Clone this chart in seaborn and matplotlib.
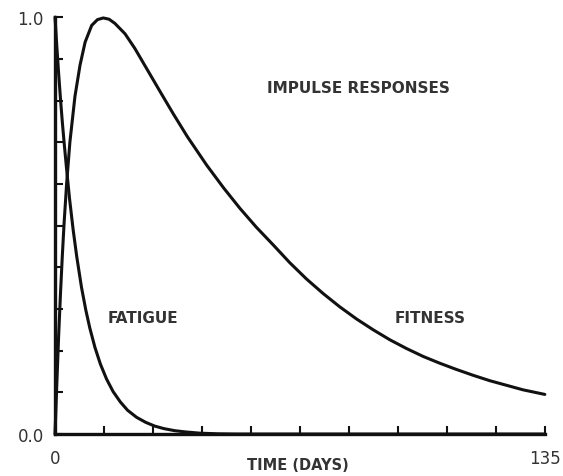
import matplotlib
matplotlib.use("Agg")
import matplotlib.pyplot as plt
import seaborn as sns
import pandas as pd

# values
fatigue_t = [0, 0.5, 1, 1.5, 2, 2.5, 3.2, 4, 5, 6, 7.3, 8.5, 9.6, 11, 12.5, 14.2, 16, 18, 20,
             22.5, 25, 27.5, 30, 33, 36, 40, 45, 50, 135]
fatigue_v = [1.0, 0.93, 0.865, 0.805, 0.75, 0.70, 0.635, 0.565, 0.49, 0.425, 0.352, 0.297, 0.254,
             0.208, 0.168, 0.132, 0.102, 0.077, 0.057, 0.040, 0.028, 0.019, 0.013, 0.008, 0.005,
             0.002, 0.0005, 0.0, 0.0]

fitness_t = [0, 0.5, 1, 1.5, 2, 2.5, 3.2, 4.1, 5.5, 6.9, 8.3, 10.1, 11.7, 13.3, 14.9, 16.5, 19.3,
             22, 25.7, 29.4, 32.6, 36.5, 41.8, 46.5, 51, 55.5, 60.1, 64.7, 69.3, 73.9, 78.5, 83.1,
             87.7, 92.3, 96.9, 101.5, 106, 110.6, 115.2, 119.8, 124.4, 129, 135]
fitness_v = [0.0, 0.12, 0.235, 0.335, 0.425, 0.505, 0.60, 0.70, 0.81, 0.885, 0.94, 0.980, 0.994,
             0.998, 0.995, 0.985, 0.960, 0.925, 0.870, 0.815, 0.768, 0.713, 0.645, 0.590, 0.541,
             0.496, 0.454, 0.411, 0.372, 0.337, 0.305, 0.276, 0.250, 0.226, 0.205, 0.186, 0.170,
             0.155, 0.141, 0.128, 0.117, 0.106, 0.095]

x_ticks = [0, 13.5, 27, 40.5, 54, 67.5, 81, 94.5, 108, 121.5, 135]
x_tick_labels = ["0", "", "", "", "", "", "", "", "", "", "135"]
y_ticks = [0.0, 0.1, 0.2, 0.3, 0.4, 0.5, 0.6, 0.7, 0.8, 0.9, 1.0]
y_tick_labels = ["0.0", "", "", "", "", "", "", "", "", "", "1.0"]

fat = pd.DataFrame({"t": fatigue_t, "v": fatigue_v})
fit = pd.DataFrame({"t": fitness_t, "v": fitness_v})

sns.set_style("white")
plt.rcParams["font.family"] = ["DejaVu Sans"]

fig = plt.figure(figsize=(5.63, 4.77), dpi=100)
ax = fig.add_axes([0.0977, 0.088, 0.870, 0.874])

ink = "#111111"
txt = "#333333"
line_kw = dict(color=ink, lw=2.2, sort=False, estimator=None)
sns.lineplot(data=fat, x="t", y="v", ax=ax, **line_kw)
sns.lineplot(data=fit, x="t", y="v", ax=ax, **line_kw)
for ln in ax.get_lines():
    ln.set_solid_joinstyle("round")
    ln.set_solid_capstyle("round")
    ln.set_clip_on(False)

ax.set_xlim(0, 135)
ax.set_ylim(0, 1.0)
for s in ["top", "right"]:
    ax.spines[s].set_visible(False)
for s in ["left", "bottom"]:
    ax.spines[s].set_linewidth(2.4)
    ax.spines[s].set_color(ink)

ax.set_xticks(x_ticks)
ax.set_xticklabels(x_tick_labels)
ax.set_yticks(y_ticks)
ax.set_yticklabels(y_tick_labels)
ax.tick_params(axis="both", which="major", bottom=True, left=True, direction="in",
               length=6, width=1.5, color=ink, labelsize=12, labelcolor=txt)
ax.tick_params(axis="x", pad=11)
ax.tick_params(axis="y", pad=8)

ax.set_xlabel("")
ax.set_ylabel("")
fig.text(298 / 563, 1 - 466 / 477, "TIME (DAYS)", fontsize=10.5, color=txt,
         ha="center", va="center", fontweight="bold")

ax.text(83.5, 0.83, "IMPULSE RESPONSES", fontsize=11, color=txt, ha="center", va="center", fontweight="bold")
ax.text(24.2, 0.28, "FATIGUE", fontsize=11, color=txt, ha="center", va="center", fontweight="bold")
ax.text(103.3, 0.28, "FITNESS", fontsize=11, color=txt, ha="center", va="center", fontweight="bold")

fig.savefig("out.png", dpi=100)
